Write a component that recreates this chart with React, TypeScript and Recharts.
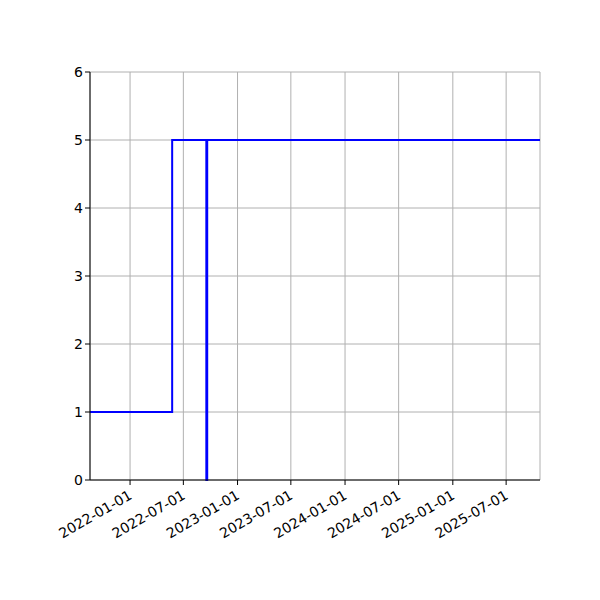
import * as React from 'react';
import { LineChart, Line, XAxis, YAxis, CartesianGrid } from 'recharts';

// Step series
const dates = ['2021-08-18', '2022-05-24', '2022-09-17', '2022-09-20', '2025-10-24'];
const values = [1, 5, 0, 5, 5];

const tickDates = [
	'2022-01-01', '2022-07-01', '2023-01-01', '2023-07-01',
	'2024-01-01', '2024-07-01', '2025-01-01', '2025-07-01',
];
const yTicks = [0, 1, 2, 3, 4, 5, 6];

const toTime = (d: string) => Date.parse(d + 'T00:00:00Z');

const data = dates.map((d, i) => ({ t: toTime(d), v: values[i] }));
const xTicks = tickDates.map(toTime);

function fmt(t: number) {
	return new Date(t).toISOString().slice(0, 10);
}

function DateTick(props: any) {
	const { x, y, payload } = props;
	return (
		<text
			x={x + 3}
			y={y + 11}
			transform={`rotate(-30, ${x + 3}, ${y + 11})`}
			textAnchor="end"
			fontSize={14}
			fill="#000"
			fontFamily="DejaVu Sans"
		>
			{fmt(payload.value)}
		</text>
	);
}

const font = { fontSize: 14, fill: '#000', fontFamily: 'DejaVu Sans' };

export default function App() {
	return (
		<div style={{ position: 'absolute', left: 0, top: 0, background: '#fff' }}>
			<LineChart
				width={600}
				height={600}
				data={data}
				margin={{ top: 72, right: 60, bottom: 70, left: 40 }}
			>
				<CartesianGrid
					xAxisId="bottom"
					yAxisId="left"
					stroke="#b0b0b0"
					strokeWidth={1}
				/>
				<XAxis
					xAxisId="bottom"
					dataKey="t"
					type="number"
					scale="time"
					domain={[data[0].t, data[data.length - 1].t]}
					ticks={xTicks}
					tick={<DateTick />}
					interval={0}
					height={50}
					stroke="#000"
					tickSize={5}
					allowDataOverflow
				/>
				<XAxis
					xAxisId="top"
					orientation="top"
					dataKey="t"
					type="number"
					domain={[data[0].t, data[data.length - 1].t]}
					tick={false}
					tickLine={false}
					height={0}
					stroke="#000"
				/>
				<YAxis
					yAxisId="left"
					domain={[0, 6]}
					ticks={yTicks}
					tick={font}
					width={50}
					stroke="#000"
					tickSize={5}
				/>
				<YAxis
					yAxisId="right"
					orientation="right"
					domain={[0, 6]}
					tick={false}
					tickLine={false}
					width={0}
					stroke="#000"
				/>
				<Line
					xAxisId="bottom"
					yAxisId="left"
					type="stepAfter"
					dataKey="v"
					stroke="#0000ff"
					strokeWidth={2}
					dot={false}
					isAnimationActive={false}
				/>
			</LineChart>
		</div>
	);
}
